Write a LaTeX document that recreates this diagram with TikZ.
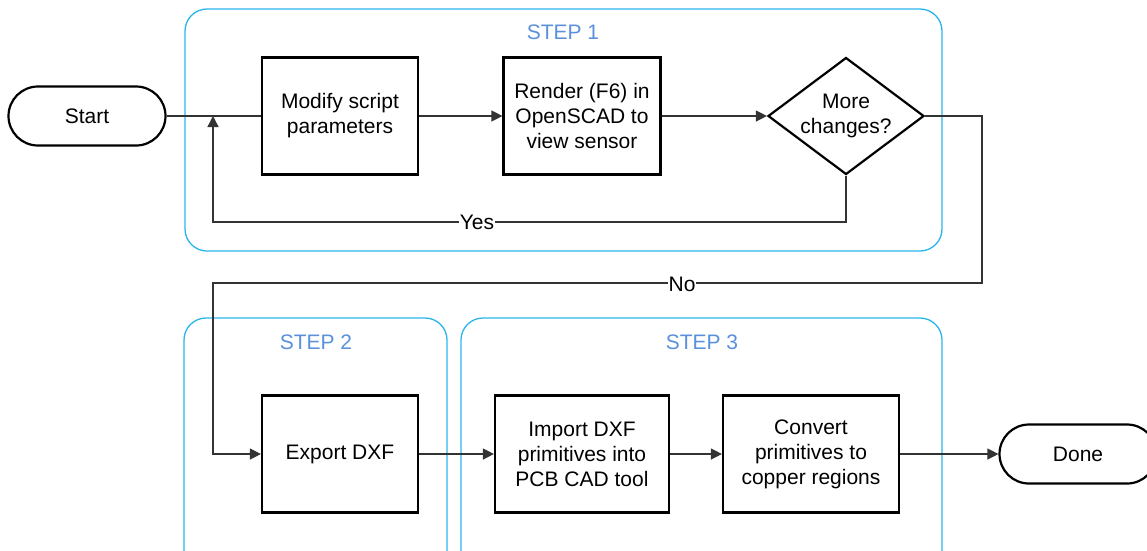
\documentclass[tikz,border=0pt]{standalone}
\usepackage{fontspec}
\setmainfont{Liberation Sans}
\usetikzlibrary{shapes.geometric,arrows.meta}
\definecolor{frameblue}{HTML}{29B5EC}
\definecolor{steptext}{HTML}{5A90DC}
\definecolor{wire}{HTML}{333333}
\begin{document}
\begin{tikzpicture}[x=1pt,y=-1pt,
  font=\fontsize{21}{25}\selectfont,
  process/.style={draw=black, line width=2.2pt, fill=white, minimum width=156pt,
    minimum height=117pt, inner sep=2pt, align=center},
  terminal/.style={draw=black, line width=2.2pt, fill=white, rounded corners=29.5pt,
    minimum width=157pt, minimum height=59pt, inner sep=2pt},
  decision/.style={diamond, aspect=1.33, draw=black, line width=2.2pt, fill=white,
    minimum width=156pt, minimum height=117pt, inner sep=0pt, align=center},
  container/.style={draw=frameblue, line width=1.3pt, rounded corners=22pt},
  steplabel/.style={text=steptext, inner sep=0pt},
  wire/.style={draw=wire, line width=1.3pt},
  flow/.style={wire, -{Triangle[length=11pt,width=11pt]}},
  edgelabel/.style={fill=white, inner sep=1pt}]
\useasboundingbox (0,0) rectangle (1147,550);
\clip (0,0) rectangle (1147,550);

% step containers
\draw[container] (185,9) rectangle (942,251);
\draw[container] (184,318) rectangle (447,590);
\draw[container] (461,318) rectangle (942,590);
\node[steplabel] (s1) at (563,32) {STEP 1};
\node[steplabel] (s2) at (316,342) {STEP 2};
\node[steplabel] (s3) at (702,342) {STEP 3};

% flow nodes
\node[terminal] (start) at (87,116) {Start};
\node[process] (modify) at (340,116) {Modify script\\parameters};
\node[process, minimum width=157pt] (render) at (582,116) {Render (F6) in\\OpenSCAD to\\view sensor};
\node[decision] (more) at (846,116) {More\\changes?};
\node[process] (export) at (340,454) {Export DXF};
\node[process, minimum width=174pt] (import) at (582,454) {Import DXF\\primitives into\\PCB CAD tool};
\node[process, minimum width=176pt] (convert) at (811,454) {Convert\\primitives to\\copper regions};
\node[terminal] (done) at (1078,454) {Done};

% routing points
\coordinate (join) at (213,116);
\coordinate (yesL) at (213,222);
\coordinate (noA) at (982,116);
\coordinate (noB) at (982,283);
\coordinate (noC) at (213,283);

% connectors
\draw[wire] (start.east) -- (modify.west);
\draw[flow] (modify.east) -- (render.west);
\draw[flow] (render.east) -- (more.west);
\draw[flow] (more.south) |- (yesL) -- (join);
\node[edgelabel] (yes) at (477,222) {Yes};
\draw[flow] (more.east) -- (noA) -- (noB) -- (noC) |- (export.west);
\node[edgelabel] (no) at (682,284) {No};
\draw[flow] (export.east) -- (import.west);
\draw[flow] (import.east) -- (convert.west);
\draw[flow] (convert.east) -- (done.west);
\end{tikzpicture}
\end{document}
